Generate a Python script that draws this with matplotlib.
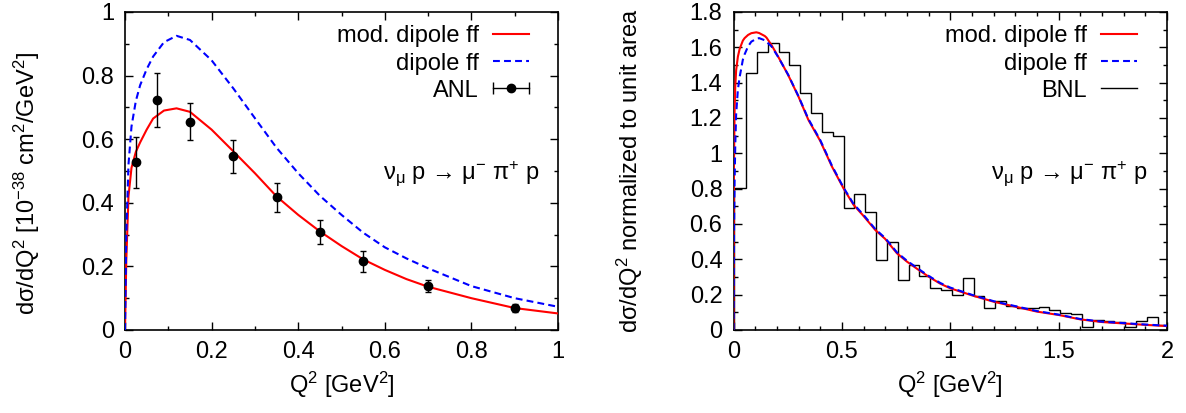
"""
Q^2 distributions for nu_mu p -> mu- pi+ p: ANL cross section (left)
and BNL shape normalized to unit area (right), dipole vs modified dipole ff.
"""

import numpy as np
import matplotlib
matplotlib.use("Agg")
import matplotlib.pyplot as plt
from matplotlib.lines import Line2D
from matplotlib.legend_handler import HandlerLine2D
from matplotlib.ticker import MultipleLocator, FuncFormatter

plt.rcParams['font.family'] = ['Liberation Sans', 'DejaVu Sans']
plt.rcParams['mathtext.fontset'] = 'custom'
plt.rcParams['mathtext.rm'] = 'Liberation Sans'
plt.rcParams['mathtext.it'] = 'Liberation Sans'
plt.rcParams['mathtext.default'] = 'regular'

# ---- left panel: ANL cross section [1e-38 cm^2/GeV^2] ----
anl_q2 = [0.025, 0.075, 0.15, 0.25, 0.35, 0.45, 0.55, 0.70, 0.90]
anl_val = [0.527, 0.723, 0.655, 0.546, 0.417, 0.308, 0.216, 0.139, 0.070]
anl_err = [0.080, 0.084, 0.058, 0.052, 0.045, 0.038, 0.033, 0.019, 0.012]

left_q2 = [0.0, 0.003, 0.008, 0.015, 0.025, 0.035, 0.05, 0.065, 0.09, 0.119,
           0.15, 0.2, 0.25, 0.3, 0.35, 0.4, 0.45, 0.5, 0.55, 0.6, 0.65, 0.7,
           0.8, 0.9, 1.0]
left_mod = [0.0, 0.22, 0.42, 0.51, 0.56, 0.59, 0.63, 0.665, 0.69, 0.697,
            0.686, 0.630, 0.562, 0.493, 0.42, 0.362, 0.31, 0.264, 0.222, 0.189,
            0.160, 0.136, 0.100, 0.069, 0.052]
left_dip = [0.0, 0.30, 0.52, 0.64, 0.72, 0.77, 0.82, 0.86, 0.905, 0.925,
            0.912, 0.848, 0.76, 0.666, 0.573, 0.493, 0.422, 0.362, 0.306, 0.260,
            0.225, 0.194, 0.138, 0.100, 0.073]

# ---- right panel: BNL histogram, normalized to unit area ----
bnl_edges = np.r_[0.0, np.arange(0.0575, 2.0, 0.05), 2.0]
bnl_val = [0.802, 1.453, 1.575, 1.626, 1.575, 1.500, 1.340, 1.226, 1.119, 1.100,
           0.688, 0.768, 0.665, 0.398, 0.496, 0.283, 0.366, 0.306, 0.238, 0.226,
           0.198, 0.294, 0.194, 0.123, 0.166, 0.138, 0.123, 0.126, 0.132, 0.113,
           0.098, 0.089, 0.019, 0.057, 0.051, 0.047, 0.019, 0.053, 0.072, 0.026]

right_q2 = [0.0, 0.002, 0.005, 0.008, 0.012, 0.02, 0.028, 0.043, 0.051, 0.067,
            0.082, 0.105, 0.118, 0.144, 0.152, 0.175, 0.206, 0.252, 0.3, 0.345,
            0.4, 0.454, 0.508, 0.554, 0.6, 0.654, 0.7, 0.754, 0.8, 0.854, 0.9,
            0.954, 1.0, 1.1, 1.2, 1.3, 1.4, 1.5, 1.6, 1.7, 1.8, 1.9, 2.0]
right_mod = [0.0, 0.95, 1.25, 1.38, 1.47, 1.547, 1.59, 1.638, 1.652, 1.67,
             1.68, 1.685, 1.681, 1.664, 1.655, 1.613, 1.547, 1.443, 1.32, 1.19,
             1.07, 0.925, 0.80, 0.708, 0.645, 0.566, 0.515, 0.434, 0.387, 0.34,
             0.302, 0.262, 0.236, 0.196, 0.160, 0.132, 0.104, 0.085, 0.060,
             0.045, 0.037, 0.029, 0.022]
right_dip = [0.0, 0.55, 0.85, 1.05, 1.22, 1.36, 1.43, 1.53, 1.56, 1.605,
             1.632, 1.648, 1.652, 1.640, 1.632, 1.605, 1.545, 1.445, 1.322, 1.195,
             1.075, 0.93, 0.805, 0.713, 0.651, 0.571, 0.52, 0.439, 0.392, 0.345,
             0.306, 0.266, 0.240, 0.199, 0.163, 0.135, 0.107, 0.087, 0.062,
             0.047, 0.039, 0.031, 0.024]

RED = '#ff0000'
BLUE = '#0000ff'
FS = 17
REACTION = 'ν$_{μ}$ p → μ$^{-}$ π$^{+}$ p'


def style_axes(ax, xmax, ymax, xmaj, xmin, ymaj, ymin):
    ax.set_xlim(0, xmax)
    ax.set_ylim(0, ymax)
    ax.xaxis.set_major_locator(MultipleLocator(xmaj))
    ax.xaxis.set_minor_locator(MultipleLocator(xmin))
    ax.yaxis.set_major_locator(MultipleLocator(ymaj))
    ax.yaxis.set_minor_locator(MultipleLocator(ymin))
    fmt = FuncFormatter(lambda v, p: '%g' % round(v, 3))
    ax.xaxis.set_major_formatter(fmt)
    ax.yaxis.set_major_formatter(fmt)
    ax.tick_params(which='both', direction='in', top=True, right=True,
                   labelsize=FS, width=1.0)
    ax.tick_params(which='major', length=6, pad=8)
    ax.tick_params(which='minor', length=3)
    for s in ax.spines.values():
        s.set_linewidth(1.2)
    ax.set_xlabel(r'Q$^2$ [GeV$^2$]', fontsize=FS, labelpad=5)


fig = plt.figure(figsize=(11.86, 4.13), dpi=100)
ax1 = fig.add_axes([0.1054, 0.2010, 0.3651, 0.7700])
ax2 = fig.add_axes([0.6185, 0.2010, 0.3655, 0.7700])

# left
style_axes(ax1, 1.0, 1.0, 0.2, 0.1, 0.2, 0.1)
ax1.plot(left_q2, left_mod, color=RED, lw=1.5, zorder=3)
ax1.plot(left_q2, left_dip, color=BLUE, lw=1.5, dashes=(3.3, 2.0), zorder=3)
ax1.errorbar(anl_q2, anl_val, yerr=anl_err, fmt='o', color='k', ms=6,
             elinewidth=1.0, capsize=2.5, capthick=1.0, zorder=4)
ax1.set_ylabel(r'd$\sigma$/dQ$^2$ [10$^{-38}$ cm$^2$/GeV$^2$]', fontsize=FS)
ax1.yaxis.set_label_coords(-0.192, 0.46)
ax1.text(0.595, 0.49, REACTION, transform=ax1.transAxes, fontsize=FS,
         ha='left', va='center')

h_mod = Line2D([], [], color=RED, lw=1.5)
h_dip = Line2D([], [], color=BLUE, lw=1.5, dashes=(3.3, 2.0))
h_bar = Line2D([], [], color='k', lw=1.0, marker='|', ms=8, mew=1.0)
h_dot = Line2D([], [], color='k', lw=0, marker='o', ms=6)
ax1.legend([h_mod, h_dip, (h_bar, h_dot)], ['mod. dipole ff', 'dipole ff', 'ANL'],
           loc='upper right', bbox_to_anchor=(0.932, 0.958), frameon=False,
           markerfirst=False, fontsize=FS, handlelength=1.5, handletextpad=0.6,
           labelspacing=0.22, borderpad=0, borderaxespad=0,
           handler_map={h_bar: HandlerLine2D(numpoints=2, marker_pad=0),
                        h_dot: HandlerLine2D(numpoints=1)})

# right
style_axes(ax2, 2.0, 1.8, 0.5, 0.1, 0.2, 0.1)
ax2.stairs(bnl_val, bnl_edges, color='k', lw=1.0, zorder=2)
ax2.plot(right_q2, right_mod, color=RED, lw=1.5, zorder=3)
ax2.plot(right_q2, right_dip, color=BLUE, lw=1.5, dashes=(3.3, 2.0), zorder=4)
ax2.set_ylabel(r'd$\sigma$/dQ$^2$ normalized to unit area', fontsize=FS)
ax2.yaxis.set_label_coords(-0.204, 0.5)
ax2.text(0.595, 0.49, REACTION, transform=ax2.transAxes, fontsize=FS,
         ha='left', va='center')
h_bnl = Line2D([], [], color='k', lw=1.0)
ax2.legend([h_mod, h_dip, h_bnl], ['mod. dipole ff', 'dipole ff', 'BNL'],
           loc='upper right', bbox_to_anchor=(0.930, 0.958), frameon=False,
           markerfirst=False, fontsize=FS, handlelength=1.5, handletextpad=0.6,
           labelspacing=0.22, borderpad=0, borderaxespad=0)

fig.savefig('out.png', dpi=100)
